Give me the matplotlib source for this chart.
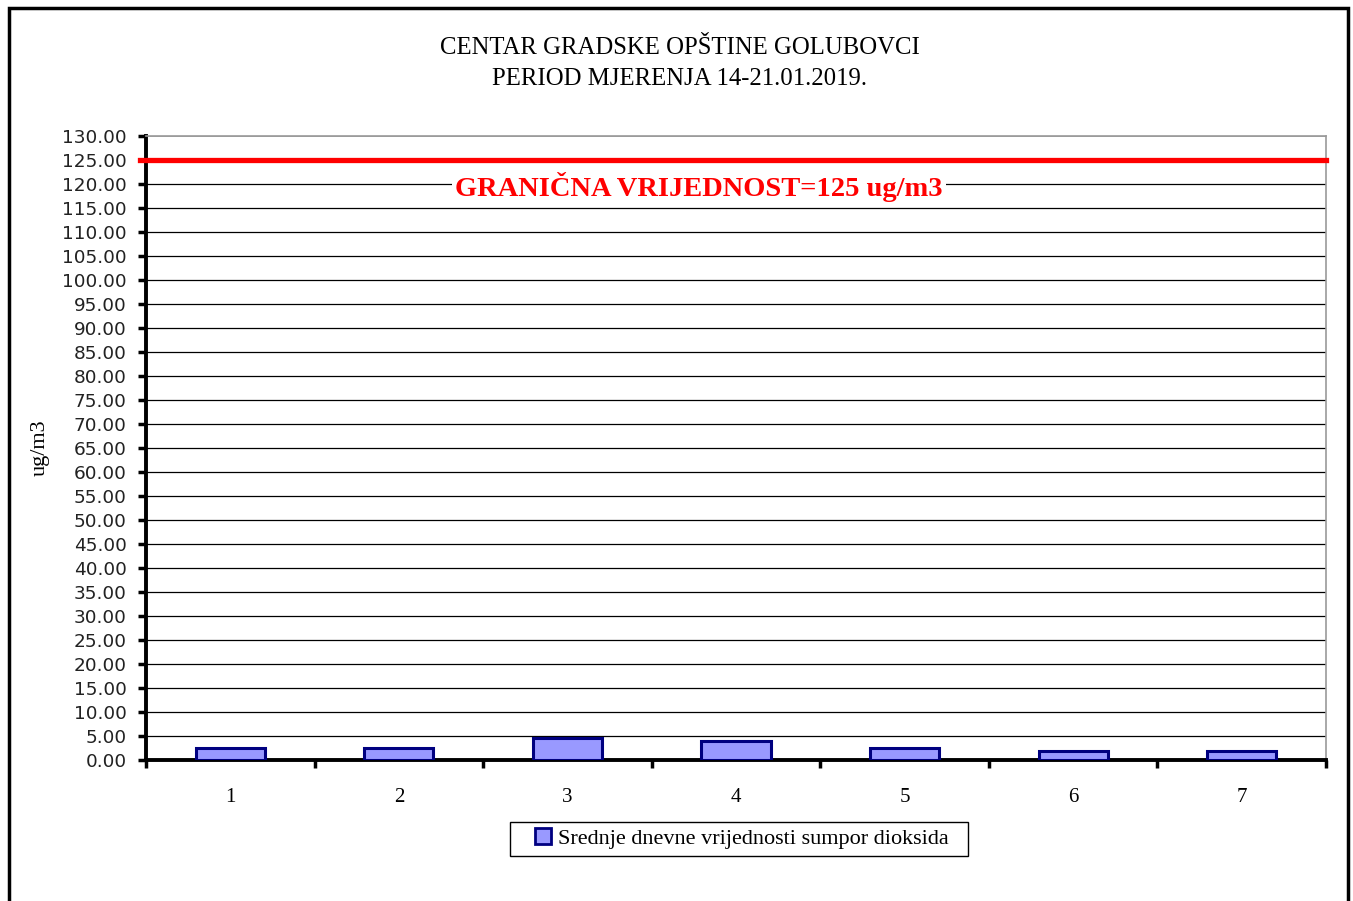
import numpy as np
import matplotlib
matplotlib.use('Agg')
import matplotlib.pyplot as plt
from matplotlib.patches import Rectangle

# podaci
days = ['1', '2', '3', '4', '5', '6', '7']
so2_values = [2.4, 2.4, 4.6, 4.0, 2.4, 1.8, 1.8]
limit_value = 125
y_ticks = np.arange(0, 131, 5)

SERIF = 'Liberation Serif'
SANS = 'DejaVu Sans'

fig = plt.figure(figsize=(13.53, 9.01), dpi=100)
ax = fig.add_axes([0.1079, 0.1565, 0.8722, 0.6925])

x = np.arange(len(days)) + 0.5
ax.bar(x, so2_values, width=0.41, color='#9999FF', edgecolor='#000080',
       linewidth=2.2, zorder=3, label='Srednje dnevne vrijednosti sumpor dioksida')

ax.set_xlim(0, len(days))
ax.set_ylim(0, 130)

# mreza
for v in y_ticks[1:-1]:
    ax.axhline(v, color='black', linewidth=0.9, zorder=1)
ax.axhline(130, color='#999999', linewidth=1.2, zorder=1)

# granicna vrijednost
ax.axhline(limit_value, xmin=-0.005, xmax=1.0, color='red', linewidth=3.8,
           clip_on=False, zorder=4)
ax.text(3.28, 119.4, 'GRANIČNA VRIJEDNOST=125 ug/m3', color='red',
        fontsize=20.5, fontweight='bold', family=SERIF, ha='center', va='center',
        bbox=dict(facecolor='white', edgecolor='none', pad=2.5), zorder=5)

# ose
ax.set_yticks(y_ticks)
ax.set_yticklabels([f'{v:.2f}' for v in y_ticks], family=SANS, fontsize=13.3,
                   color='#222222')
ax.tick_params(axis='y', direction='out', length=6, width=2.5, pad=8)

ax.set_xticks(np.arange(len(days) + 1))
ax.set_xticklabels([])
ax.set_xticks(x, minor=True)
ax.set_xticklabels(days, minor=True, family=SERIF, fontsize=15)
ax.tick_params(axis='x', which='major', direction='out', length=6, width=2.5)
ax.tick_params(axis='x', which='minor', length=0, pad=20)

for s in ['left', 'bottom']:
    ax.spines[s].set_linewidth(2.8)
    ax.spines[s].set_color('black')
for s in ['top', 'right']:
    ax.spines[s].set_linewidth(1.2)
    ax.spines[s].set_color('#999999')

ax.set_ylabel('ug/m3', family=SERIF, fontsize=16, labelpad=9)

fig.text(0.5022, 0.9467, 'CENTAR GRADSKE OPŠTINE GOLUBOVCI', family=SERIF,
         fontsize=17.8, ha='center', va='center')
fig.text(0.5022, 0.9127, 'PERIOD MJERENJA 14-21.01.2019.', family=SERIF,
         fontsize=17.8, ha='center', va='center')

leg = ax.legend(loc='center', bbox_to_anchor=(0.5484, 0.0692),
                bbox_transform=fig.transFigure, frameon=False,
                prop={'family': SERIF, 'size': 16}, handlelength=0.7,
                handleheight=0.7, handletextpad=0.3, borderpad=0.3,
                borderaxespad=0)
for h in leg.legend_handles:
    h.set_linewidth(2.0)

# okvir legende
fig.patches.append(Rectangle((0.3769, 0.0499), 0.3385, 0.0377, transform=fig.transFigure,
                             fill=False, edgecolor='black', linewidth=1.0))

# okvir
fig.patches.append(Rectangle((0.0065, -0.05), 0.9895, 1.0413, transform=fig.transFigure,
                             fill=False, edgecolor='black', linewidth=2.5))

fig.savefig('out.png', dpi=100)
